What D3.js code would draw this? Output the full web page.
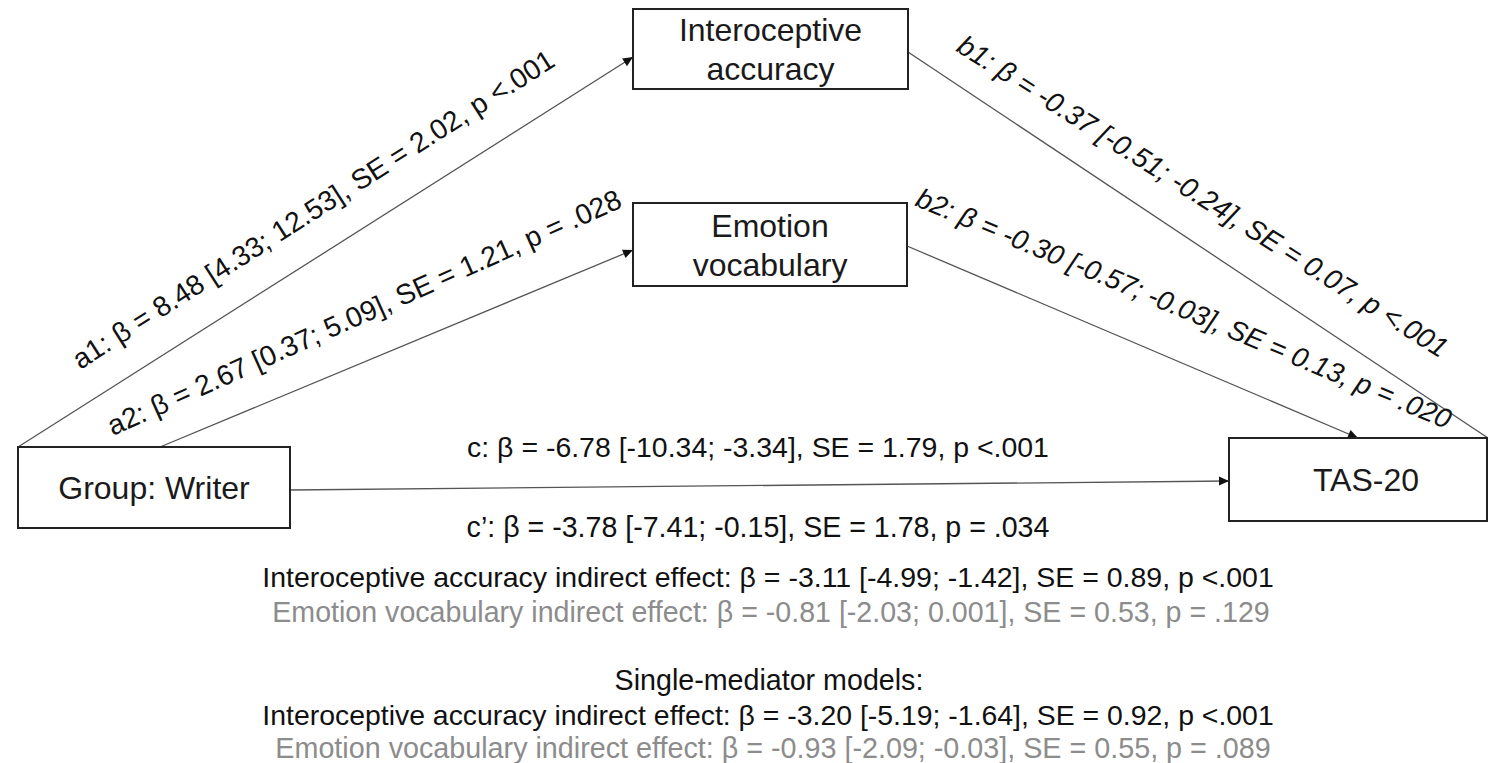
<!DOCTYPE html>
<html lang="en">
<head>
  <meta charset="UTF-8">
  <title>Parallel mediation model</title>
  <script src="https://d3js.org/d3.v7.min.js"></script>
  <style>
    body {
      margin: 0;
      overflow: hidden;
      background-color: #fff;
    }
    svg {
      font-family: "Liberation Sans", Arial, sans-serif;
    }
    .box {
      fill: #fff;
      stroke: #222; /* dark box outline */
      stroke-width: 2;
    }
    .link {
      fill: none;
      stroke: #555;
      stroke-width: 1.3;
    }
    .nodeLabel {
      fill: #1a1a1a;
      font-size: 32px;
    }
  </style>
</head>
<body>
  <svg id="chart"></svg>

  <script>
    // --- data ---
    const nodeNames = ["Group: Writer", "Interoceptive accuracy", "Emotion vocabulary", "TAS-20"];

    const pathIds = ["a1", "a2", "b1", "b2", "c", "c\u2019"];
    const pathBeta = [8.48, 2.67, -0.37, -0.30, -6.78, -3.78];
    const pathLow = [4.33, 0.37, -0.51, -0.57, -10.34, -7.41];
    const pathHigh = [12.53, 5.09, -0.24, -0.03, -3.34, -0.15];
    const pathSE = [2.02, 1.21, 0.07, 0.13, 1.79, 1.78];
    const pathP = ["<.001", "= .028", "<.001", "= .020", "<.001", "= .034"];

    const mediators = ["Interoceptive accuracy", "Emotion vocabulary"];
    const multiBeta = [-3.11, -0.81];
    const multiLow = [-4.99, -2.03];
    const multiHigh = [-1.42, 0.001];
    const multiSE = [0.89, 0.53];
    const multiP = ["<.001", "= .129"];
    const singleBeta = [-3.20, -0.93];
    const singleLow = [-5.19, -2.09];
    const singleHigh = [-1.64, -0.03];
    const singleSE = [0.92, 0.55];
    const singleP = ["<.001", "= .089"];
    const significant = [true, false];
    const singleTitle = "Single-mediator models:";

    // --- layout (design space = 1488 x 763) ---
    const width = 1488, height = 763;
    const x = d3.scaleLinear().domain([0, 1488]).range([0, width]);
    const y = d3.scaleLinear().domain([0, 763]).range([0, height]);

    const boxes = [
      {x: 18, y: 447, w: 272, h: 81},
      {x: 633, y: 9, w: 275, h: 80},
      {x: 633, y: 203, w: 274, h: 83},
      {x: 1229, y: 438, w: 258, h: 83}
    ];

    // arrows: [from, to] points, whether to draw a head
    const links = [
      {p: [[18, 447], [633, 57]], head: true},
      {p: [[160, 447], [633, 250]], head: true},
      {p: [[908, 52], [1488, 438]], head: false},
      {p: [[907, 246], [1358, 438]], head: true},
      {p: [[290, 490], [1229, 481]], head: true}
    ];

    // path label placement: centre, angle, target length
    const pathLabelPos = [
      {cx: 313, cy: 209, a: -32.6, len: 566, italic: false},
      {cx: 364, cy: 312, a: -24.2, len: 560, italic: false},
      {cx: 1203, cy: 196, a: 32.4, len: 575, italic: true},
      {cx: 1184, cy: 308, a: 22.8, len: 578, italic: true},
      {cx: 758, cy: 447, a: 0, len: 582, italic: false},
      {cx: 758, cy: 527, a: 0, len: 583, italic: false}
    ];

    const fmt = v => (v !== 0 && Math.abs(v) < 0.01) ? String(v) : v.toFixed(2);
    const effect = (b, lo, hi, se, p) =>
      "\u03b2 = " + fmt(b) + " [" + fmt(lo) + "; " + fmt(hi) + "], SE = " + fmt(se) + ", p " + p;

    const svg = d3.select("#chart")
      .attr("width", width)
      .attr("height", height);

    svg.append("defs").append("marker")
      .attr("id", "arrow")
      .attr("markerUnits", "userSpaceOnUse")
      .attr("viewBox", "0 -5 10 10")
      .attr("refX", 10)
      .attr("refY", 0)
      .attr("markerWidth", 13)
      .attr("markerHeight", 10)
      .attr("orient", "auto")
      .append("path")
      .attr("d", "M0,-4.5L10,0L0,4.5Z")
      .attr("fill", "#111");

    // scale text so its drawn width matches a target length
    function fitText(sel, len) {
      sel.each(function() {
        const node = d3.select(this);
        const fs = parseFloat(node.style("font-size"));
        const w = this.getComputedTextLength();
        node.style("font-size", (fs * len / w) + "px");
      });
    }

    // arrows
    svg.selectAll(".link")
      .data(links)
      .enter().append("line")
      .attr("class", "link")
      .attr("x1", d => x(d.p[0][0]))
      .attr("y1", d => y(d.p[0][1]))
      .attr("x2", d => x(d.p[1][0]))
      .attr("y2", d => y(d.p[1][1]))
      .attr("marker-end", d => d.head ? "url(#arrow)" : null);

    // boxes
    const node = svg.selectAll(".node")
      .data(nodeNames)
      .enter().append("g")
      .attr("class", "node");

    node.append("rect")
      .attr("class", "box")
      .attr("x", (d, i) => x(boxes[i].x))
      .attr("y", (d, i) => y(boxes[i].y))
      .attr("width", (d, i) => x(boxes[i].w) - x(0))
      .attr("height", (d, i) => y(boxes[i].h) - y(0));

    // two-word mediator names break onto two lines
    node.each(function(d, i) {
      const b = boxes[i];
      const lines = (i === 1 || i === 2) ? d.split(" ") : [d];
      const cx = x(b.x + b.w / 2) + (i === 3 ? 8 : 0);
      const cy = y(b.y + b.h / 2);
      const lh = 39;
      d3.select(this).selectAll("text")
        .data(lines)
        .enter().append("text")
        .attr("class", "nodeLabel")
        .attr("text-anchor", "middle")
        .attr("x", cx)
        .attr("y", (t, k) => cy + (k - (lines.length - 1) / 2) * lh)
        .attr("dy", "0.36em")
        .text(t => t);
    });

    // path coefficient labels
    svg.selectAll(".pathLabel")
      .data(pathIds)
      .enter().append("text")
      .attr("class", "pathLabel")
      .attr("text-anchor", "middle")
      .attr("dy", "0.36em")
      .attr("fill", "#111")
      .style("font-size", "24px")
      .style("font-style", (d, i) => pathLabelPos[i].italic ? "italic" : "normal")
      .attr("transform", (d, i) => {
        const p = pathLabelPos[i];
        return "translate(" + x(p.cx) + "," + y(p.cy) + ") rotate(" + p.a + ")";
      })
      .text((d, i) => d + ": " + effect(pathBeta[i], pathLow[i], pathHigh[i], pathSE[i], pathP[i]))
      .each(function(d, i) { fitText(d3.select(this), pathLabelPos[i].len); });

    // indirect effects
    const summary = [];
    mediators.forEach((m, i) => summary.push({
      text: m + " indirect effect: " + effect(multiBeta[i], multiLow[i], multiHigh[i], multiSE[i], multiP[i]),
      sig: significant[i]
    }));
    summary.push({text: singleTitle, sig: true});
    mediators.forEach((m, i) => summary.push({
      text: m + " indirect effect: " + effect(singleBeta[i], singleLow[i], singleHigh[i], singleSE[i], singleP[i]),
      sig: significant[i]
    }));

    const summaryPos = [
      {cx: 768, cy: 577, len: 1012},
      {cx: 771, cy: 612, len: 998},
      {cx: 769, cy: 680, len: 309},
      {cx: 768, cy: 715, len: 1012},
      {cx: 773, cy: 748, len: 996}
    ];

    svg.selectAll(".summary")
      .data(summary)
      .enter().append("text")
      .attr("class", "summary")
      .attr("text-anchor", "middle")
      .attr("x", (d, i) => x(summaryPos[i].cx))
      .attr("y", (d, i) => y(summaryPos[i].cy))
      .attr("dy", "0.36em")
      .attr("fill", d => d.sig ? "#111" : "#8c8c8c")
      .style("font-size", "24px")
      .text(d => d.text)
      .each(function(d, i) { fitText(d3.select(this), summaryPos[i].len); });
  </script>
</body>
</html>
